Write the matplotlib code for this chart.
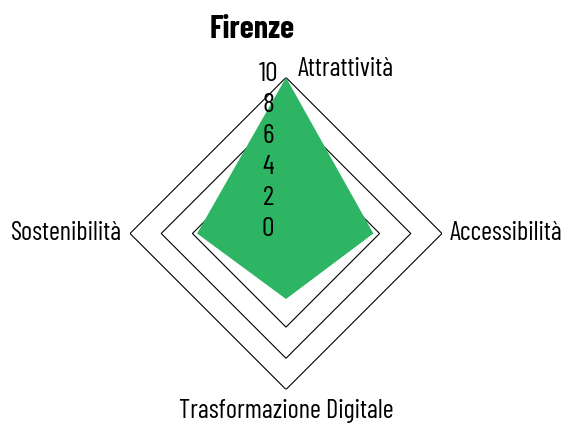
import numpy as np
import matplotlib
matplotlib.use("Agg")
import matplotlib.pyplot as plt

# data
categories = ["Attrattività", "Accessibilità", "Trasformazione Digitale", "Sostenibilità"]
values = [10, 5.6, 4.2, 5.7]
ticks = [0, 2, 4, 6, 8, 10]
title = "Firenze"

plt.rcParams['font.family'] = ['Barlow Condensed', 'DejaVu Sans']

fig = plt.figure(figsize=(5.66, 4.24), dpi=100)
ax = fig.add_axes([0.2297, 0.0814, 0.5512, 0.7358], projection='polar')
ax.set_theta_offset(np.pi / 2)
ax.set_theta_direction(-1)
ax.set_ylim(0, 10)
ax.grid(False)
ax.spines['polar'].set_visible(False)
ax.set_xticks([])
ax.set_yticks([])
ax.patch.set_visible(False)

theta = np.linspace(0, 2 * np.pi, len(categories), endpoint=False)
theta_c = np.append(theta, theta[0])

# diamond grid
for t in ticks:
    ax.plot(theta_c, [t] * len(theta_c), color='black', lw=0.8, zorder=1)

# data polygon
vals = np.append(values, values[0])
ax.fill(theta_c, vals, color='#2db563', lw=0, zorder=2)

# tick labels along top axis
for t in ticks:
    ax.annotate(str(t), (0, t), xytext=(-18, 4), textcoords='offset pixels',
                ha='center', va='center', fontsize=20, zorder=3)

# point labels
offsets = [(12, 9, 'left', 'center'), (8, 0, 'left', 'center'),
           (0, -22, 'center', 'center'), (-8, 0, 'right', 'center')]
for th, lab, (dx, dy, ha, va) in zip(theta, categories, offsets):
    ax.annotate(lab, (th, 10), xytext=(dx, dy), textcoords='offset pixels',
                ha=ha, va=va, fontsize=19, annotation_clip=False)

fig.text(252 / 566, 1 - 30 / 424, title, ha='center', va='center',
         fontsize=23, fontweight='bold')

fig.savefig("out.png", dpi=100)
